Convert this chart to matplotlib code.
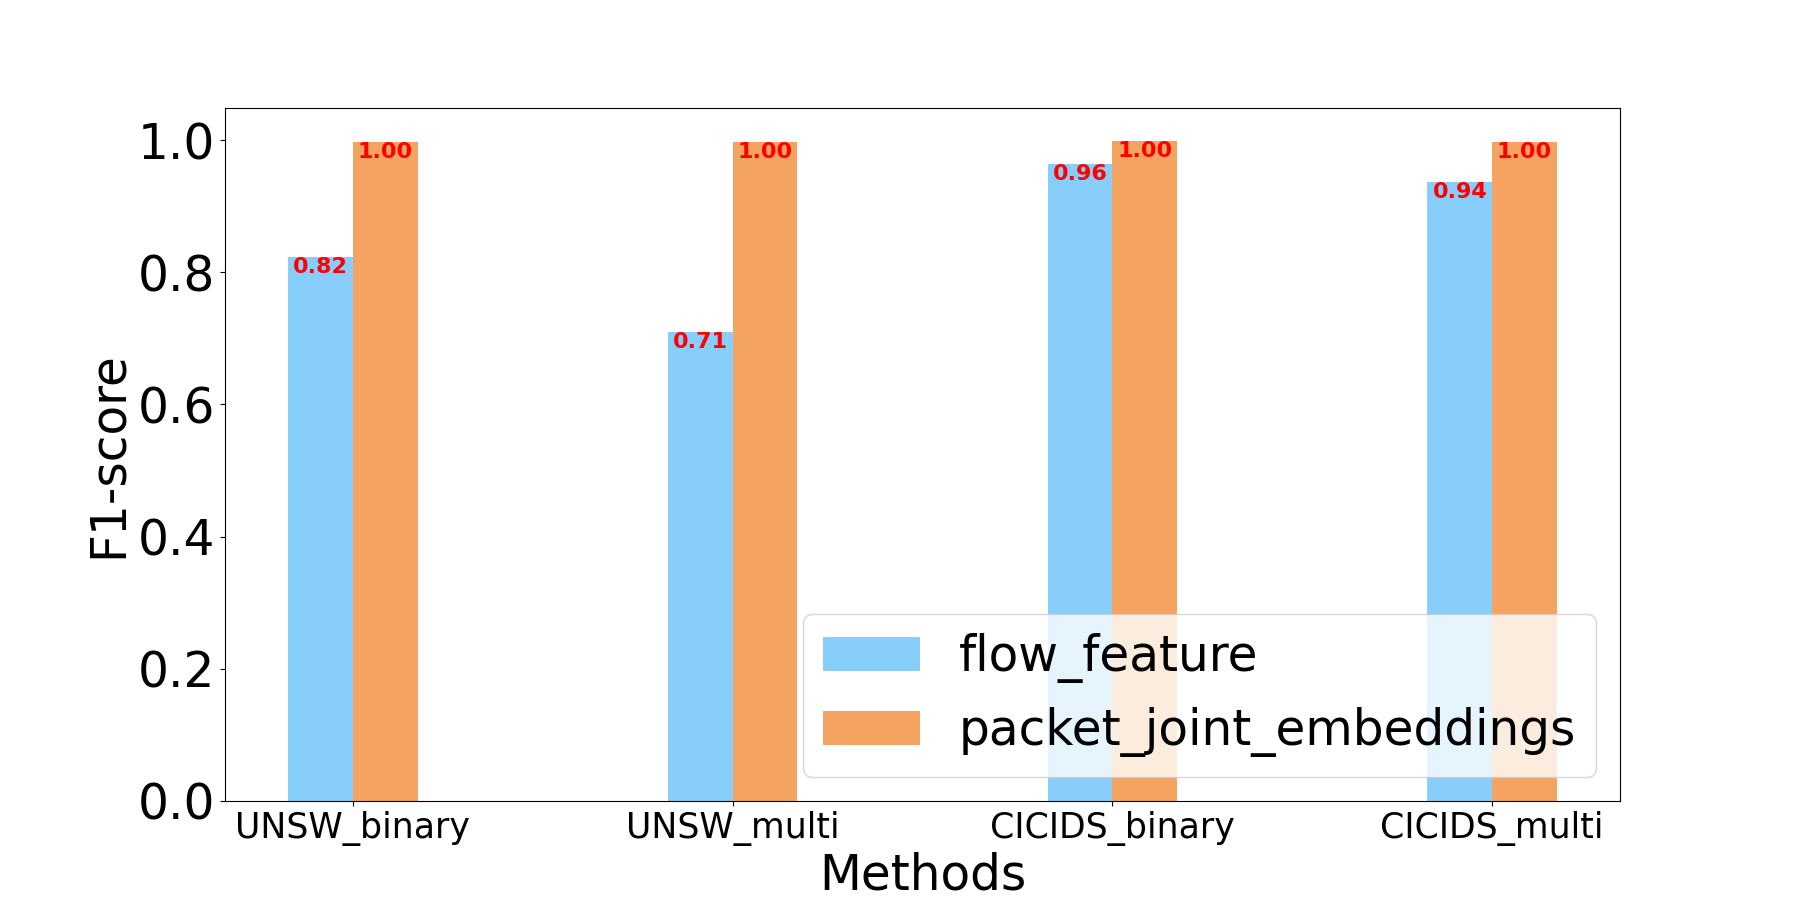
import matplotlib
matplotlib.use('Agg')
import matplotlib.pyplot as plt
import numpy as np

methods = ['UNSW_binary', 'UNSW_multi', 'CICIDS_binary', 'CICIDS_multi']
flow_feature = [0.823, 0.709, 0.964, 0.937]
packet_joint_embeddings = [0.997, 0.997, 0.9985, 0.997]

x = np.arange(len(methods))
width = 0.17

fig, ax = plt.subplots(figsize=(18, 9), dpi=100)
bars1 = ax.bar(x - width / 2, flow_feature, width, color='lightskyblue', label='flow_feature')
bars2 = ax.bar(x + width / 2, packet_joint_embeddings, width, color='sandybrown', label='packet_joint_embeddings')

# value labels just inside the top of each bar
for bars in (bars1, bars2):
    for bar in bars:
        h = bar.get_height()
        ax.text(bar.get_x() + bar.get_width() / 2, h, f'{h:.2f}', ha='center', va='top',
                color='red', fontsize=16, fontweight='bold')

ax.set_xticks(x)
ax.set_xticklabels(methods, fontsize=25)
ax.tick_params(axis='y', labelsize=35)
ax.set_xlabel('Methods', fontsize=35)
ax.set_ylabel('F1-score', fontsize=35)
ax.legend(fontsize=35, loc='lower right')

plt.savefig('out.png')
